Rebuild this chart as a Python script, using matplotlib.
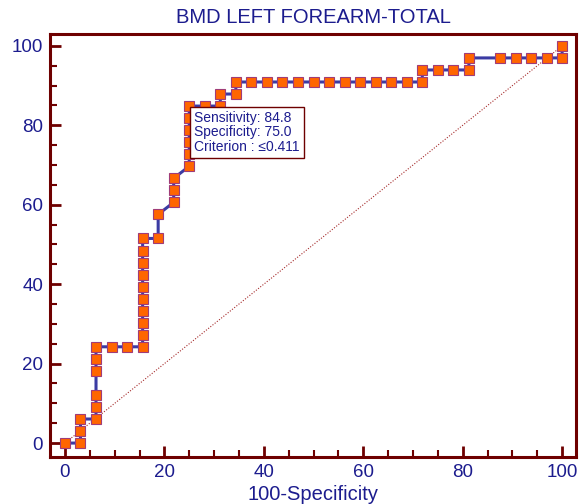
import matplotlib
matplotlib.use("Agg")
import matplotlib.pyplot as plt
from matplotlib.ticker import MultipleLocator

plt.rcParams["font.family"] = ["Liberation Sans", "DejaVu Sans"]

# ROC curve points: 100-Specificity (x) and Sensitivity (y), in percent
fpr = [0, 3.125, 3.125, 3.125, 6.25, 6.25, 6.25, 6.25, 6.25, 6.25,
       9.375, 12.5, 15.625, 15.625, 15.625, 15.625, 15.625, 15.625, 15.625, 15.625,
       15.625, 15.625, 18.75, 18.75, 21.875, 21.875, 21.875, 25, 25, 25,
       25, 25, 25, 28.125, 31.25, 31.25, 34.375, 34.375, 37.5, 40.625,
       43.75, 46.875, 50, 53.125, 56.25, 59.375, 62.5, 65.625, 68.75, 71.875,
       71.875, 75, 78.125, 81.25, 81.25, 87.5, 90.625, 93.75, 96.875, 100,
       100]
tpr = [0, 0, 3.03, 6.06, 6.06, 9.09, 12.12, 18.18, 21.21, 24.24,
       24.24, 24.24, 24.24, 27.27, 30.30, 33.33, 36.36, 39.39, 42.42, 45.45,
       48.48, 51.52, 51.52, 57.58, 60.61, 63.64, 66.67, 69.70, 72.73, 75.76,
       78.79, 81.82, 84.85, 84.85, 84.85, 87.88, 87.88, 90.91, 90.91, 90.91,
       90.91, 90.91, 90.91, 90.91, 90.91, 90.91, 90.91, 90.91, 90.91, 90.91,
       93.94, 93.94, 93.94, 93.94, 96.97, 96.97, 96.97, 96.97, 96.97, 96.97,
       100]

# Optimal cut-off point
opt_fpr = 25.0
opt_tpr = 84.85
sensitivity = 84.8
specificity = 75.0
criterion = "\u22640.411"

title = "BMD LEFT FOREARM-TOTAL"
xlabel = "100-Specificity"
ticks = [0, 20, 40, 60, 80, 100]

navy = "#1C1C8E"
axis_red = "#6E0000"
line_blue = "#3B3BA3"
marker_orange = "#FF6600"
marker_edge = "#A03C78"

fig = plt.figure(figsize=(5.79, 5.04), dpi=100)
ax = fig.add_axes([0.0864, 0.0933, 0.9085, 0.8393])
ax.set_xlim(-3, 102.8)
ax.set_ylim(-3.5, 103)

# chance diagonal
ax.plot([0, 100], [0, 100], color="#A52A2A", lw=0.8, ls=(0, (1, 1.5)), zorder=2)

# ROC curve
ax.plot(fpr, tpr, color=line_blue, lw=2.2, marker="s", ms=7.4,
        mfc=marker_orange, mec=marker_edge, mew=0.8, zorder=3)

label = (f"Sensitivity: {sensitivity:.1f}\n"
         f"Specificity: {specificity:.1f}\n"
         f"Criterion : {criterion}")
ax.annotate(label, xy=(opt_fpr, opt_tpr), xytext=(3.5, -3.5),
            textcoords="offset points", ha="left", va="top",
            fontsize=10, color=navy, linespacing=1.05, zorder=5,
            bbox=dict(boxstyle="square,pad=0.3", fc="white",
                      ec=axis_red, lw=1.0))

for side in ["left", "right", "top", "bottom"]:
    ax.spines[side].set_color(axis_red)
    ax.spines[side].set_linewidth(2.2)

ax.set_xticks(ticks)
ax.set_yticks(ticks)
ax.xaxis.set_minor_locator(MultipleLocator(5))
ax.yaxis.set_minor_locator(MultipleLocator(5))
ax.tick_params(which="major", direction="in", length=8, width=2,
               color=axis_red, labelcolor=navy, labelsize=13.5, pad=5)
ax.tick_params(which="minor", direction="in", length=5, width=1.5,
               color=axis_red)
ax.tick_params(axis="y", which="major", pad=5)

ax.set_title(title, fontsize=14.5, color=navy, pad=8)
ax.set_xlabel(xlabel, fontsize=14.5, color=navy, labelpad=3)

fig.savefig("out.png", dpi=100)
